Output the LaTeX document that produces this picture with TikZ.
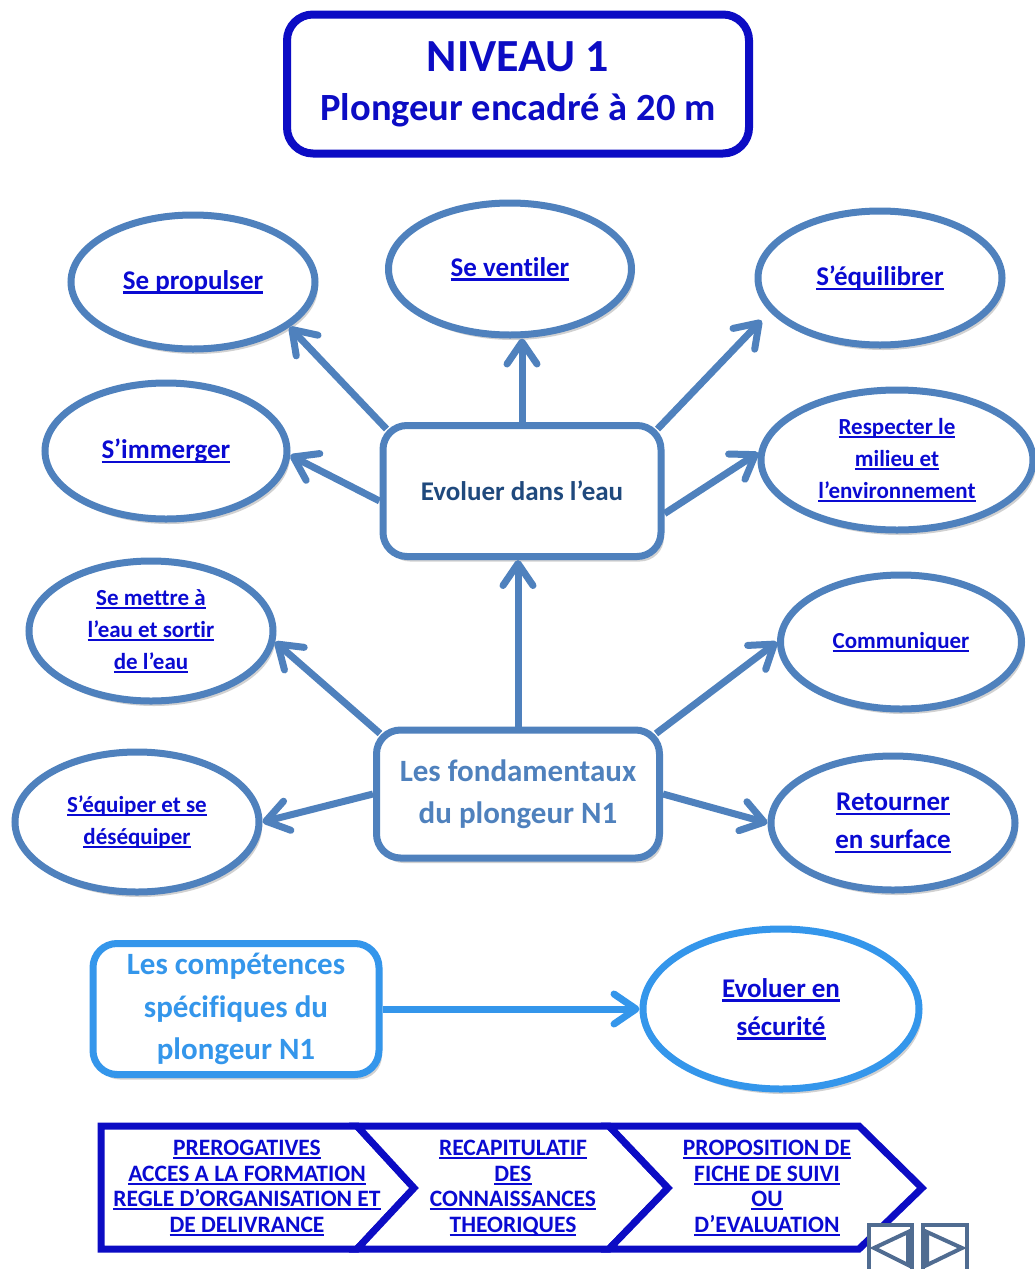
\documentclass[tikz,border=0pt]{standalone}
\usepackage{fontspec}
\setmainfont{Carlito}[Ligatures=NoCommon]
\usetikzlibrary{arrows.meta,shapes.geometric,shadows}
\definecolor{niveaunavy}{RGB}{12,12,196}
\definecolor{linkblue}{RGB}{10,10,210}
\definecolor{accentblue}{RGB}{79,129,189}
\definecolor{accentdark}{RGB}{31,73,125}
\definecolor{skyblue}{RGB}{52,150,235}
\definecolor{navgray}{RGB}{80,108,145}
% underlined link text
\newcommand{\lnk}[1]{\leavevmode\setbox0=\hbox{#1}\rlap{\rule[-0.16em]{\wd0}{0.08em}}\box0}
\tikzset{
    % soft shadow for boxes and bubbles
    softshadow/.style={drop shadow={shadow xshift=3pt,shadow yshift=-5pt,opacity=0.18,fill=black}},
    % rounded boxes
    titlebox/.style={draw=niveaunavy, line width=8pt, rounded corners=26pt, fill=white,
        minimum width=462pt, minimum height=139pt, align=center, text=niveaunavy,
        font=\bfseries\fontsize{46}{49}\selectfont},
    hubbox/.style={draw=accentblue, line width=7pt, rounded corners=24pt, fill=white,
        align=center, inner sep=0pt, softshadow},
    % ellipses with the skills
    topic/.style={ellipse, draw=accentblue, line width=7pt, fill=white, inner sep=0pt,
        align=center, text=linkblue, font=\bfseries\fontsize{23}{32}\selectfont,
        minimum width=244pt, minimum height=134pt, softshadow},
    bigtopic/.style={topic, font=\bfseries\fontsize{27}{38}\selectfont},
    % connectors
    link/.style={draw=accentblue, line width=7pt, -{Straight Barb[length=22pt,width=30pt,round]}},
    skylink/.style={link, draw=skyblue},
    % bottom banner
    chevron/.style={draw=niveaunavy, line width=7pt, line join=miter, fill=white},
    chevtext/.style={align=center, text=linkblue, font=\bfseries\fontsize{23.5}{25.5}\selectfont},
    navbtn/.style={draw=navgray, line width=4pt, line join=miter},
}

\begin{document}
\begin{tikzpicture}[x=1pt,y=-1pt]
  \useasboundingbox[fill=white] (0,0) rectangle (1034,1269);

  % title
  \node[titlebox] (title) at (518,84) {NIVEAU 1\\{\fontsize{38.5}{49}\selectfont Plongeur encadré à 20 m}};

  % central boxes
  \node[hubbox, minimum width=278pt, minimum height=131pt, text=accentdark,
        font=\bfseries\fontsize{27}{34}\selectfont] (evol) at (522,491) {Evoluer dans l’eau};
  \node[hubbox, minimum width=283pt, minimum height=128pt, text=accentblue,
        font=\bfseries\fontsize{31}{42}\selectfont] (fond) at (518,794) {Les fondamentaux\\du plongeur N1};
  \node[hubbox, draw=skyblue, minimum width=286pt, minimum height=131pt, text=skyblue,
        font=\bfseries\fontsize{31}{42.5}\selectfont] (comp) at (236,1009) {Les compétences\\spécifiques du\\plongeur N1};

  % skills around "Evoluer dans l'eau"
  \node[bigtopic] (prop) at (193,282) {\lnk{Se propulser}};
  \node[bigtopic, minimum width=243pt, minimum height=132pt] (vent) at (510,269) {\lnk{Se ventiler}};
  \node[bigtopic] (equi) at (880,278) {\lnk{S’équilibrer}};
  \node[bigtopic, minimum width=242pt, minimum height=136pt] (imm) at (166,451) {\lnk{S’immerger}};
  \node[topic, minimum width=272pt, minimum height=140pt] (resp) at (897,460) {\lnk{Respecter le}\\\lnk{milieu et}\\\lnk{l’environnement}};

  % skills around "Les fondamentaux"
  \node[topic, minimum height=140pt] (mettre) at (151,631) {\lnk{Se mettre à}\\\lnk{l’eau et sortir}\\\lnk{de l’eau}};
  \node[topic, minimum width=241pt] (comm) at (901,642) {\lnk{Communiquer}};
  \node[topic, minimum height=140pt] (equip) at (137,822) {\lnk{S’équiper et se}\\\lnk{déséquiper}};
  \node[bigtopic] (ret) at (893,823) {\lnk{Retourner}\\\lnk{en surface}};

  % specific skill
  \node[bigtopic, draw=skyblue, minimum width=276pt, minimum height=160pt] (secu) at (781,1009) {\lnk{Evoluer en}\\\lnk{sécurité}};

  % arrows
  \draw[link] ([shift={(7,7)}]evol.north west) -- (prop.-25);
  \draw[link] (evol.north) -- (evol.north |- vent.south);
  \draw[link, shorten >=12pt] ([shift={(-7,7)}]evol.north east) -- (equi.197);
  \draw[link] (evol.184) -- (imm.-2);
  \draw[link] (evol.-9) -- (resp.177);
  \draw[link] (fond.north) -- (fond.north |- evol.south);
  \draw[link] ([shift={(7,7)}]fond.north west) -- (mettre.-5);
  \draw[link] ([shift={(-7,7)}]fond.north east) -- (comm.west);
  \draw[link] (fond.west) -- (equip.east);
  \draw[link] (fond.east) -- (ret.west);
  \draw[skylink] (comp.east) -- (secu.west);

  % bottom banner
  \draw[chevron] (101,1126) -- (357,1126) -- (414,1188) -- (357,1249) -- (101,1249) -- cycle;
  \draw[chevron] (357,1126) -- (609,1126) -- (668,1188) -- (609,1249) -- (357,1249) -- (414,1188) -- cycle;
  \draw[chevron] (609,1126) -- (859,1126) -- (922,1188) -- (859,1249) -- (609,1249) -- (668,1188) -- cycle;
  \node[chevtext] (prerog) at (247,1188) {\lnk{PREROGATIVES}\\\lnk{ACCES A LA FORMATION}\\\lnk{REGLE D’ORGANISATION ET}\\\lnk{DE DELIVRANCE}};
  \node[chevtext] (recap) at (513,1188) {\lnk{RECAPITULATIF}\\\lnk{DES}\\\lnk{CONNAISSANCES}\\\lnk{THEORIQUES}};
  \node[chevtext] (fiche) at (767,1188) {\lnk{PROPOSITION DE}\\\lnk{FICHE DE SUIVI}\\\lnk{OU}\\\lnk{D’EVALUATION}};

  % navigation buttons
  \draw[navbtn, fill=white] (869,1225) rectangle (912,1275);
  \draw[navbtn] (908,1232) -- (874,1248) -- (908,1265) -- cycle;
  \draw[navbtn, fill=white] (923,1225) rectangle (967,1275);
  \draw[navbtn] (927,1232) -- (962,1248) -- (927,1265) -- cycle;
\end{tikzpicture}
\end{document}
